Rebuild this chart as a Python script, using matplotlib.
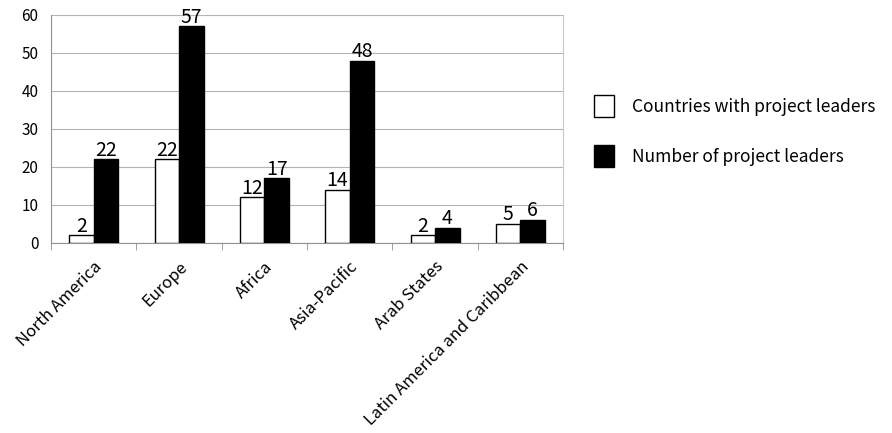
import matplotlib.pyplot as plt
import numpy as np

plt.rcParams['font.family'] = ['Noto Sans CJK KR', 'DejaVu Sans']

regions = ['North America', 'Europe', 'Africa', 'Asia-Pacific', 'Arab States',
           'Latin America and Caribbean']
countries = [2, 22, 12, 14, 2, 5]
leaders = [22, 57, 17, 48, 4, 6]

fig = plt.figure(figsize=(8.92, 4.33), dpi=100)
ax = fig.add_axes([0.0572, 0.4388, 0.5740, 0.5266])

x = np.arange(len(regions))
w = 0.287
b1 = ax.bar(x - w / 2, countries, w, color='white', edgecolor='black', linewidth=1,
            label='Countries with project leaders', zorder=3)
b2 = ax.bar(x + w / 2, leaders, w, color='black', edgecolor='black', linewidth=1,
            label='Number of project leaders', zorder=3)

for bars, vals in ((b1, countries), (b2, leaders)):
    for r, v in zip(bars, vals):
        ax.text(r.get_x() + r.get_width() / 2, v - 0.3, str(v), ha='center', va='bottom',
                fontsize=14, zorder=4)

ax.set_xlim(-0.5, len(regions) - 0.5)
ax.set_ylim(0, 60)
ax.set_yticks(range(0, 61, 10))
ax.yaxis.grid(True, color='#b4b4b4', linewidth=0.8, zorder=0)
ax.tick_params(axis='y', length=0, labelsize=11, pad=9)

ax.set_xticks(x)
ax.set_xticklabels(regions, rotation=45, ha='right', rotation_mode='anchor', fontsize=12)
ax.set_xticks(np.arange(-0.5, len(regions)), minor=True)
ax.tick_params(axis='x', which='major', length=0, pad=11)
ax.tick_params(axis='x', which='minor', length=5, color='#909090')

ax.spines['top'].set_visible(False)
ax.spines['right'].set_color('#c8c8c8')
ax.spines['left'].set_color('#909090')
ax.spines['bottom'].set_color('#909090')

fig.legend(handles=[b1, b2], loc='upper left', bbox_to_anchor=(0.648, 0.817),
           frameon=False, fontsize=12.5, handlelength=1.2, handleheight=1.6,
           labelspacing=1.6, handletextpad=1.0)

fig.savefig('out.png', dpi=100)
